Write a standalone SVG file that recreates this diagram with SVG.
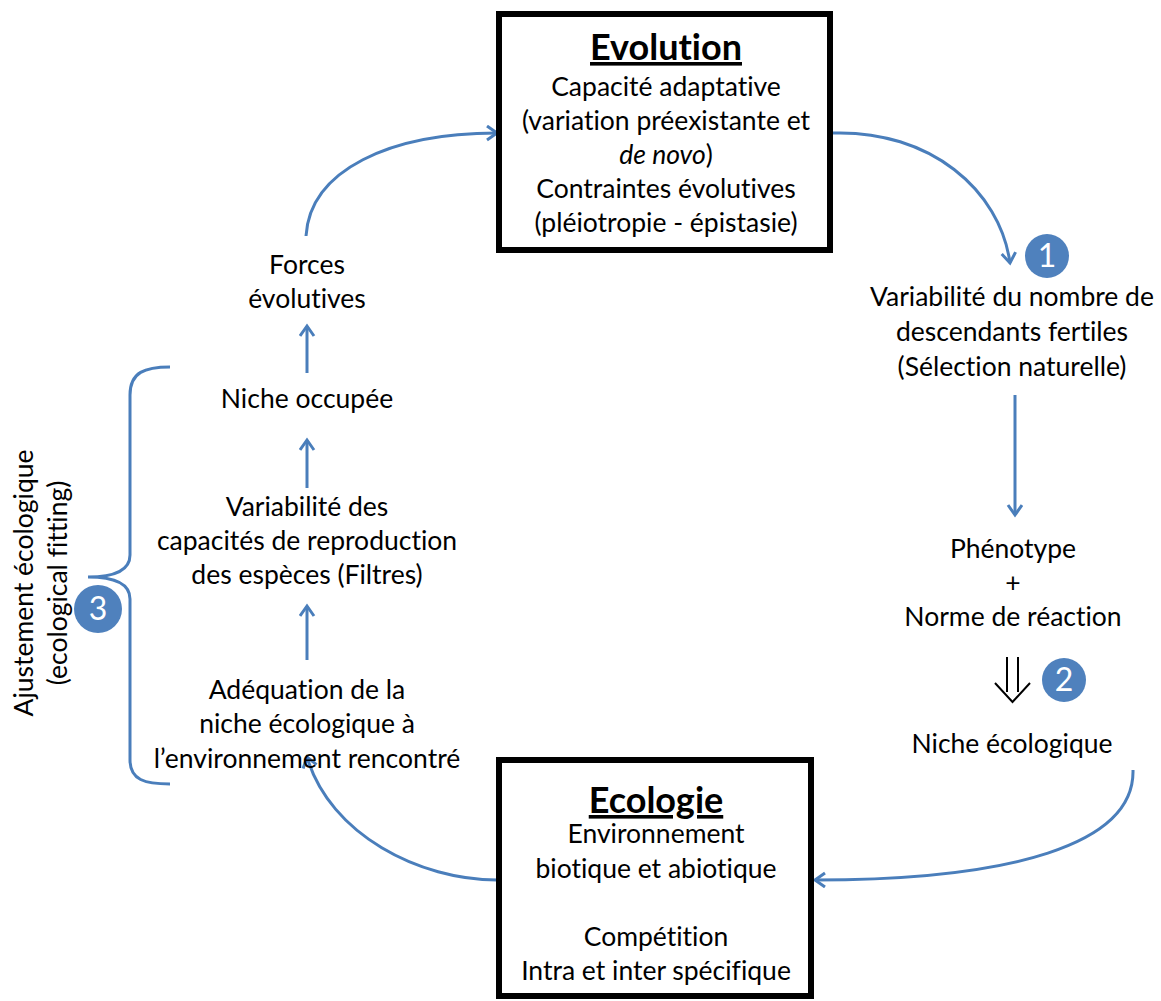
<svg xmlns="http://www.w3.org/2000/svg" width="1161" height="1001" viewBox="0 0 1161 1001">
<style>
.t{font-family:Lato,"Open Sans","Liberation Sans",sans-serif;font-size:26.5px;fill:#000;text-anchor:middle;font-variant-ligatures:none}
.h{font-weight:bold;font-size:36px;text-decoration:underline}
.box{fill:#fff;stroke:#000;stroke-width:6}
.c{fill:none;stroke:#4A7EBB;stroke-width:3}
.dot{fill:#4F81BD}
.n{font-family:Lato,"Open Sans","Liberation Sans",sans-serif;font-size:32px;fill:#fff;text-anchor:middle}
</style>
<defs>
<marker id="ah" markerUnits="userSpaceOnUse" markerWidth="20" markerHeight="20" refX="12" refY="8" orient="auto">
<path d="M2,1 L12,8 L2,15" fill="none" stroke="#4A7EBB" stroke-width="3"/>
</marker>
</defs>
<rect width="1161" height="1001" fill="#fff"/>
<g id="connectors">
<path class="c" d="M833,133 C930,130 1000,190 1010,263" marker-end="url(#ah)"/>
<path class="c" d="M1015,395 L1015,515" marker-end="url(#ah)"/>
<path class="c" d="M1133,770 C1135,845 1010,880 815,880" marker-end="url(#ah)"/>
<path class="c" d="M497,880 C420,880 330,835 307,757" marker-end="url(#ah)"/>
<path class="c" d="M307,660 L307,606" marker-end="url(#ah)"/>
<path class="c" d="M307,488 L307,440" marker-end="url(#ah)"/>
<path class="c" d="M307,373 L307,326" marker-end="url(#ah)"/>
<path class="c" d="M306,236 C310,170 390,133 497,133" marker-end="url(#ah)"/>
<path d="M1007,657 L1007,692 M1018,657 L1018,692 M995,683 L1012.5,702 L1030,683" fill="none" stroke="#000" stroke-width="2"/>
<path class="c" d="M170,367 C145,367 130,372 130,395 L130,555 C130,570 115,577 88,577 C115,577 130,584 130,599 L130,760 C130,780 145,784 170,784"/>
</g>
<g id="evolution">
<rect class="box" x="499" y="14" width="331" height="236"/>
<text class="t h" x="666" y="60">Evolution</text>
<text class="t" x="666" y="96">Capacité adaptative</text>
<text class="t" x="666" y="130">(variation préexistante et</text>
<text class="t" x="666" y="164"><tspan font-style="italic">de novo</tspan>)</text>
<text class="t" x="666" y="198">Contraintes évolutives</text>
<text class="t" x="666" y="232">(pléiotropie - épistasie)</text>
</g>
<g id="ecologie">
<rect class="box" x="499" y="760" width="312" height="236"/>
<text class="t h" x="656" y="813">Ecologie</text>
<text class="t" x="656" y="843">Environnement</text>
<text class="t" x="656" y="878">biotique et abiotique</text>
<text class="t" x="656" y="946">Compétition</text>
<text class="t" x="656" y="980">Intra et inter spécifique</text>
</g>
<g id="selection">
<circle class="dot" cx="1047" cy="256" r="22"/>
<text class="n" x="1047" y="267">1</text>
<text class="t" x="1012" y="306">Variabilité du nombre de</text>
<text class="t" x="1012" y="341">descendants fertiles</text>
<text class="t" x="1012" y="376">(Sélection naturelle)</text>
</g>
<g id="phenotype">
<text class="t" x="1013" y="558">Phénotype</text>
<text class="t" x="1013" y="592">+</text>
<text class="t" x="1013" y="626">Norme de réaction</text>
</g>
<g id="marker2">
<circle class="dot" cx="1064" cy="680" r="22"/>
<text class="n" x="1064" y="691">2</text>
</g>
<g id="niche-eco">
<text class="t" x="1012" y="753">Niche écologique</text>
</g>
<g id="adequation">
<text class="t" x="307" y="699">Adéquation de la</text>
<text class="t" x="307" y="733">niche écologique à</text>
<text class="t" x="307" y="768">l’environnement rencontré</text>
</g>
<g id="variabilite">
<text class="t" x="307" y="516">Variabilité des</text>
<text class="t" x="307" y="550">capacités de reproduction</text>
<text class="t" x="307" y="584">des espèces (Filtres)</text>
</g>
<g id="niche-occ">
<text class="t" x="307" y="408">Niche occupée</text>
</g>
<g id="forces">
<text class="t" x="307" y="274">Forces</text>
<text class="t" x="307" y="308">évolutives</text>
</g>
<g id="ajustement">
<circle class="dot" cx="98" cy="609" r="24"/>
<text class="n" x="98" y="620">3</text>
<text class="t" transform="translate(33,583) rotate(-90)">Ajustement écologique</text>
<text class="t" transform="translate(67,583) rotate(-90)">(ecological fitting)</text>
</g>
</svg>
